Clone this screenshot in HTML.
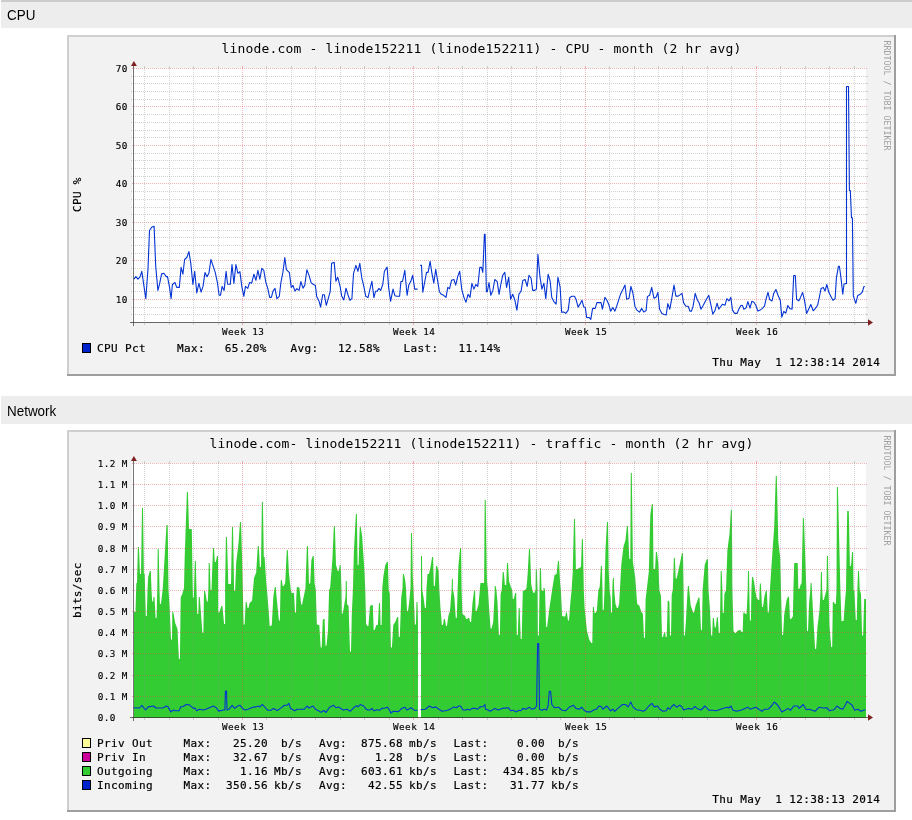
<!DOCTYPE html>
<html><head><meta charset="utf-8"><title>Graphs</title>
<style>
html,body{margin:0;padding:0;background:#fff;}
body{width:912px;height:820px;overflow:hidden;position:relative;font-family:"Liberation Sans",Arial,sans-serif;}
.hd{position:absolute;left:1px;width:911px;height:28px;background:#ededed;font-size:14px;color:#000;}
.hd span{position:absolute;left:6.3px;top:7px;line-height:16px;transform:scaleX(0.96);transform-origin:0 0;}
#h1{top:0;}
#h1:before{content:"";position:absolute;left:0;top:0;width:100%;height:2px;background:#cbcbcb;}
#h2{top:396px;}
svg{position:absolute;left:0;top:0;}
svg text{font-family:'DejaVu Sans Mono', 'Liberation Mono', monospace;stroke:currentColor;stroke-width:0.2px;}
svg text[font-size="9.3"]{stroke-width:0.15px;}
svg text[font-size="13"],svg text.wm{stroke:none;}
</style></head>
<body>
<div class="hd" id="h1"><span>CPU</span></div>
<div class="hd" id="h2"><span>Network</span></div>
<svg width="912" height="820" viewBox="0 0 912 820" shape-rendering="crispEdges">
<rect x="67" y="35" width="829" height="341" fill="#f2f2f2"/>
<path d="M67 35h829v2h-827v339h-2z" fill="#cfcfcf"/>
<path d="M896 376h-829v-2h827v-339h2z" fill="#9e9e9e"/>
<text x="481.5" y="53" font-size="13" letter-spacing="0.173" text-anchor="middle" fill="#000">linode.com - linode152211 (linode152211) - CPU - month (2 hr avg)</text>
<text class="wm" transform="translate(883.6 40.5) rotate(90)" font-size="8.3" fill="#a0a0a0">RRDTOOL / TOBI OETIKER</text>
<rect x="132" y="68" width="734" height="254" fill="#fff"/>
<line x1="131" y1="322.5" x2="865" y2="322.5" stroke="rgba(143,143,143,0.38)" stroke-width="1" stroke-dasharray="1 1"/>
<line x1="865" y1="322.5" x2="868" y2="322.5" stroke="rgba(143,143,143,0.38)" stroke-width="1"/>
<line x1="131" y1="314.5" x2="865" y2="314.5" stroke="rgba(143,143,143,0.38)" stroke-width="1" stroke-dasharray="1 1"/>
<line x1="865" y1="314.5" x2="868" y2="314.5" stroke="rgba(143,143,143,0.38)" stroke-width="1"/>
<line x1="131" y1="307.5" x2="865" y2="307.5" stroke="rgba(143,143,143,0.38)" stroke-width="1" stroke-dasharray="1 1"/>
<line x1="865" y1="307.5" x2="868" y2="307.5" stroke="rgba(143,143,143,0.38)" stroke-width="1"/>
<line x1="132" y1="299.5" x2="867" y2="299.5" stroke="rgba(222,79,79,0.42)" stroke-width="1" stroke-dasharray="1 1"/>
<line x1="131" y1="291.5" x2="865" y2="291.5" stroke="rgba(143,143,143,0.38)" stroke-width="1" stroke-dasharray="1 1"/>
<line x1="865" y1="291.5" x2="868" y2="291.5" stroke="rgba(143,143,143,0.38)" stroke-width="1"/>
<line x1="131" y1="283.5" x2="865" y2="283.5" stroke="rgba(143,143,143,0.38)" stroke-width="1" stroke-dasharray="1 1"/>
<line x1="865" y1="283.5" x2="868" y2="283.5" stroke="rgba(143,143,143,0.38)" stroke-width="1"/>
<line x1="131" y1="276.5" x2="865" y2="276.5" stroke="rgba(143,143,143,0.38)" stroke-width="1" stroke-dasharray="1 1"/>
<line x1="865" y1="276.5" x2="868" y2="276.5" stroke="rgba(143,143,143,0.38)" stroke-width="1"/>
<line x1="131" y1="268.5" x2="865" y2="268.5" stroke="rgba(143,143,143,0.38)" stroke-width="1" stroke-dasharray="1 1"/>
<line x1="865" y1="268.5" x2="868" y2="268.5" stroke="rgba(143,143,143,0.38)" stroke-width="1"/>
<line x1="132" y1="260.5" x2="867" y2="260.5" stroke="rgba(222,79,79,0.42)" stroke-width="1" stroke-dasharray="1 1"/>
<line x1="131" y1="253.5" x2="865" y2="253.5" stroke="rgba(143,143,143,0.38)" stroke-width="1" stroke-dasharray="1 1"/>
<line x1="865" y1="253.5" x2="868" y2="253.5" stroke="rgba(143,143,143,0.38)" stroke-width="1"/>
<line x1="131" y1="245.5" x2="865" y2="245.5" stroke="rgba(143,143,143,0.38)" stroke-width="1" stroke-dasharray="1 1"/>
<line x1="865" y1="245.5" x2="868" y2="245.5" stroke="rgba(143,143,143,0.38)" stroke-width="1"/>
<line x1="131" y1="237.5" x2="865" y2="237.5" stroke="rgba(143,143,143,0.38)" stroke-width="1" stroke-dasharray="1 1"/>
<line x1="865" y1="237.5" x2="868" y2="237.5" stroke="rgba(143,143,143,0.38)" stroke-width="1"/>
<line x1="131" y1="230.5" x2="865" y2="230.5" stroke="rgba(143,143,143,0.38)" stroke-width="1" stroke-dasharray="1 1"/>
<line x1="865" y1="230.5" x2="868" y2="230.5" stroke="rgba(143,143,143,0.38)" stroke-width="1"/>
<line x1="132" y1="222.5" x2="867" y2="222.5" stroke="rgba(222,79,79,0.42)" stroke-width="1" stroke-dasharray="1 1"/>
<line x1="131" y1="214.5" x2="865" y2="214.5" stroke="rgba(143,143,143,0.38)" stroke-width="1" stroke-dasharray="1 1"/>
<line x1="865" y1="214.5" x2="868" y2="214.5" stroke="rgba(143,143,143,0.38)" stroke-width="1"/>
<line x1="131" y1="207.5" x2="865" y2="207.5" stroke="rgba(143,143,143,0.38)" stroke-width="1" stroke-dasharray="1 1"/>
<line x1="865" y1="207.5" x2="868" y2="207.5" stroke="rgba(143,143,143,0.38)" stroke-width="1"/>
<line x1="131" y1="199.5" x2="865" y2="199.5" stroke="rgba(143,143,143,0.38)" stroke-width="1" stroke-dasharray="1 1"/>
<line x1="865" y1="199.5" x2="868" y2="199.5" stroke="rgba(143,143,143,0.38)" stroke-width="1"/>
<line x1="131" y1="191.5" x2="865" y2="191.5" stroke="rgba(143,143,143,0.38)" stroke-width="1" stroke-dasharray="1 1"/>
<line x1="865" y1="191.5" x2="868" y2="191.5" stroke="rgba(143,143,143,0.38)" stroke-width="1"/>
<line x1="132" y1="183.5" x2="867" y2="183.5" stroke="rgba(222,79,79,0.42)" stroke-width="1" stroke-dasharray="1 1"/>
<line x1="131" y1="176.5" x2="865" y2="176.5" stroke="rgba(143,143,143,0.38)" stroke-width="1" stroke-dasharray="1 1"/>
<line x1="865" y1="176.5" x2="868" y2="176.5" stroke="rgba(143,143,143,0.38)" stroke-width="1"/>
<line x1="131" y1="168.5" x2="865" y2="168.5" stroke="rgba(143,143,143,0.38)" stroke-width="1" stroke-dasharray="1 1"/>
<line x1="865" y1="168.5" x2="868" y2="168.5" stroke="rgba(143,143,143,0.38)" stroke-width="1"/>
<line x1="131" y1="160.5" x2="865" y2="160.5" stroke="rgba(143,143,143,0.38)" stroke-width="1" stroke-dasharray="1 1"/>
<line x1="865" y1="160.5" x2="868" y2="160.5" stroke="rgba(143,143,143,0.38)" stroke-width="1"/>
<line x1="131" y1="153.5" x2="865" y2="153.5" stroke="rgba(143,143,143,0.38)" stroke-width="1" stroke-dasharray="1 1"/>
<line x1="865" y1="153.5" x2="868" y2="153.5" stroke="rgba(143,143,143,0.38)" stroke-width="1"/>
<line x1="132" y1="145.5" x2="867" y2="145.5" stroke="rgba(222,79,79,0.42)" stroke-width="1" stroke-dasharray="1 1"/>
<line x1="131" y1="137.5" x2="865" y2="137.5" stroke="rgba(143,143,143,0.38)" stroke-width="1" stroke-dasharray="1 1"/>
<line x1="865" y1="137.5" x2="868" y2="137.5" stroke="rgba(143,143,143,0.38)" stroke-width="1"/>
<line x1="131" y1="130.5" x2="865" y2="130.5" stroke="rgba(143,143,143,0.38)" stroke-width="1" stroke-dasharray="1 1"/>
<line x1="865" y1="130.5" x2="868" y2="130.5" stroke="rgba(143,143,143,0.38)" stroke-width="1"/>
<line x1="131" y1="122.5" x2="865" y2="122.5" stroke="rgba(143,143,143,0.38)" stroke-width="1" stroke-dasharray="1 1"/>
<line x1="865" y1="122.5" x2="868" y2="122.5" stroke="rgba(143,143,143,0.38)" stroke-width="1"/>
<line x1="131" y1="114.5" x2="865" y2="114.5" stroke="rgba(143,143,143,0.38)" stroke-width="1" stroke-dasharray="1 1"/>
<line x1="865" y1="114.5" x2="868" y2="114.5" stroke="rgba(143,143,143,0.38)" stroke-width="1"/>
<line x1="132" y1="106.5" x2="867" y2="106.5" stroke="rgba(222,79,79,0.42)" stroke-width="1" stroke-dasharray="1 1"/>
<line x1="131" y1="99.5" x2="865" y2="99.5" stroke="rgba(143,143,143,0.38)" stroke-width="1" stroke-dasharray="1 1"/>
<line x1="865" y1="99.5" x2="868" y2="99.5" stroke="rgba(143,143,143,0.38)" stroke-width="1"/>
<line x1="131" y1="91.5" x2="865" y2="91.5" stroke="rgba(143,143,143,0.38)" stroke-width="1" stroke-dasharray="1 1"/>
<line x1="865" y1="91.5" x2="868" y2="91.5" stroke="rgba(143,143,143,0.38)" stroke-width="1"/>
<line x1="131" y1="83.5" x2="865" y2="83.5" stroke="rgba(143,143,143,0.38)" stroke-width="1" stroke-dasharray="1 1"/>
<line x1="865" y1="83.5" x2="868" y2="83.5" stroke="rgba(143,143,143,0.38)" stroke-width="1"/>
<line x1="131" y1="76.5" x2="865" y2="76.5" stroke="rgba(143,143,143,0.38)" stroke-width="1" stroke-dasharray="1 1"/>
<line x1="865" y1="76.5" x2="868" y2="76.5" stroke="rgba(143,143,143,0.38)" stroke-width="1"/>
<line x1="132" y1="68.5" x2="867" y2="68.5" stroke="rgba(222,79,79,0.42)" stroke-width="1" stroke-dasharray="1 1"/>
<line x1="144.5" y1="68" x2="144.5" y2="322" stroke="rgba(143,143,143,0.38)" stroke-width="1" stroke-dasharray="1 1"/>
<line x1="144.5" y1="66" x2="144.5" y2="68" stroke="rgba(143,143,143,0.38)" stroke-width="1"/>
<line x1="144.5" y1="323" x2="144.5" y2="325" stroke="rgba(143,143,143,0.38)" stroke-width="1"/>
<line x1="169.5" y1="68" x2="169.5" y2="322" stroke="rgba(143,143,143,0.38)" stroke-width="1" stroke-dasharray="1 1"/>
<line x1="169.5" y1="66" x2="169.5" y2="68" stroke="rgba(143,143,143,0.38)" stroke-width="1"/>
<line x1="169.5" y1="323" x2="169.5" y2="325" stroke="rgba(143,143,143,0.38)" stroke-width="1"/>
<line x1="193.5" y1="68" x2="193.5" y2="322" stroke="rgba(143,143,143,0.38)" stroke-width="1" stroke-dasharray="1 1"/>
<line x1="193.5" y1="66" x2="193.5" y2="68" stroke="rgba(143,143,143,0.38)" stroke-width="1"/>
<line x1="193.5" y1="323" x2="193.5" y2="325" stroke="rgba(143,143,143,0.38)" stroke-width="1"/>
<line x1="218.5" y1="68" x2="218.5" y2="322" stroke="rgba(143,143,143,0.38)" stroke-width="1" stroke-dasharray="1 1"/>
<line x1="218.5" y1="66" x2="218.5" y2="68" stroke="rgba(143,143,143,0.38)" stroke-width="1"/>
<line x1="218.5" y1="323" x2="218.5" y2="325" stroke="rgba(143,143,143,0.38)" stroke-width="1"/>
<line x1="242.5" y1="68" x2="242.5" y2="322" stroke="rgba(222,79,79,0.42)" stroke-width="1" stroke-dasharray="1 1"/>
<line x1="242.5" y1="66" x2="242.5" y2="68" stroke="rgba(222,79,79,0.42)" stroke-width="1"/>
<line x1="242.5" y1="323" x2="242.5" y2="325" stroke="rgba(222,79,79,0.42)" stroke-width="1"/>
<line x1="266.5" y1="68" x2="266.5" y2="322" stroke="rgba(143,143,143,0.38)" stroke-width="1" stroke-dasharray="1 1"/>
<line x1="266.5" y1="66" x2="266.5" y2="68" stroke="rgba(143,143,143,0.38)" stroke-width="1"/>
<line x1="266.5" y1="323" x2="266.5" y2="325" stroke="rgba(143,143,143,0.38)" stroke-width="1"/>
<line x1="291.5" y1="68" x2="291.5" y2="322" stroke="rgba(143,143,143,0.38)" stroke-width="1" stroke-dasharray="1 1"/>
<line x1="291.5" y1="66" x2="291.5" y2="68" stroke="rgba(143,143,143,0.38)" stroke-width="1"/>
<line x1="291.5" y1="323" x2="291.5" y2="325" stroke="rgba(143,143,143,0.38)" stroke-width="1"/>
<line x1="315.5" y1="68" x2="315.5" y2="322" stroke="rgba(143,143,143,0.38)" stroke-width="1" stroke-dasharray="1 1"/>
<line x1="315.5" y1="66" x2="315.5" y2="68" stroke="rgba(143,143,143,0.38)" stroke-width="1"/>
<line x1="315.5" y1="323" x2="315.5" y2="325" stroke="rgba(143,143,143,0.38)" stroke-width="1"/>
<line x1="340.5" y1="68" x2="340.5" y2="322" stroke="rgba(143,143,143,0.38)" stroke-width="1" stroke-dasharray="1 1"/>
<line x1="340.5" y1="66" x2="340.5" y2="68" stroke="rgba(143,143,143,0.38)" stroke-width="1"/>
<line x1="340.5" y1="323" x2="340.5" y2="325" stroke="rgba(143,143,143,0.38)" stroke-width="1"/>
<line x1="364.5" y1="68" x2="364.5" y2="322" stroke="rgba(143,143,143,0.38)" stroke-width="1" stroke-dasharray="1 1"/>
<line x1="364.5" y1="66" x2="364.5" y2="68" stroke="rgba(143,143,143,0.38)" stroke-width="1"/>
<line x1="364.5" y1="323" x2="364.5" y2="325" stroke="rgba(143,143,143,0.38)" stroke-width="1"/>
<line x1="389.5" y1="68" x2="389.5" y2="322" stroke="rgba(143,143,143,0.38)" stroke-width="1" stroke-dasharray="1 1"/>
<line x1="389.5" y1="66" x2="389.5" y2="68" stroke="rgba(143,143,143,0.38)" stroke-width="1"/>
<line x1="389.5" y1="323" x2="389.5" y2="325" stroke="rgba(143,143,143,0.38)" stroke-width="1"/>
<line x1="413.5" y1="68" x2="413.5" y2="322" stroke="rgba(222,79,79,0.42)" stroke-width="1" stroke-dasharray="1 1"/>
<line x1="413.5" y1="66" x2="413.5" y2="68" stroke="rgba(222,79,79,0.42)" stroke-width="1"/>
<line x1="413.5" y1="323" x2="413.5" y2="325" stroke="rgba(222,79,79,0.42)" stroke-width="1"/>
<line x1="438.5" y1="68" x2="438.5" y2="322" stroke="rgba(143,143,143,0.38)" stroke-width="1" stroke-dasharray="1 1"/>
<line x1="438.5" y1="66" x2="438.5" y2="68" stroke="rgba(143,143,143,0.38)" stroke-width="1"/>
<line x1="438.5" y1="323" x2="438.5" y2="325" stroke="rgba(143,143,143,0.38)" stroke-width="1"/>
<line x1="462.5" y1="68" x2="462.5" y2="322" stroke="rgba(143,143,143,0.38)" stroke-width="1" stroke-dasharray="1 1"/>
<line x1="462.5" y1="66" x2="462.5" y2="68" stroke="rgba(143,143,143,0.38)" stroke-width="1"/>
<line x1="462.5" y1="323" x2="462.5" y2="325" stroke="rgba(143,143,143,0.38)" stroke-width="1"/>
<line x1="487.5" y1="68" x2="487.5" y2="322" stroke="rgba(143,143,143,0.38)" stroke-width="1" stroke-dasharray="1 1"/>
<line x1="487.5" y1="66" x2="487.5" y2="68" stroke="rgba(143,143,143,0.38)" stroke-width="1"/>
<line x1="487.5" y1="323" x2="487.5" y2="325" stroke="rgba(143,143,143,0.38)" stroke-width="1"/>
<line x1="511.5" y1="68" x2="511.5" y2="322" stroke="rgba(143,143,143,0.38)" stroke-width="1" stroke-dasharray="1 1"/>
<line x1="511.5" y1="66" x2="511.5" y2="68" stroke="rgba(143,143,143,0.38)" stroke-width="1"/>
<line x1="511.5" y1="323" x2="511.5" y2="325" stroke="rgba(143,143,143,0.38)" stroke-width="1"/>
<line x1="536.5" y1="68" x2="536.5" y2="322" stroke="rgba(143,143,143,0.38)" stroke-width="1" stroke-dasharray="1 1"/>
<line x1="536.5" y1="66" x2="536.5" y2="68" stroke="rgba(143,143,143,0.38)" stroke-width="1"/>
<line x1="536.5" y1="323" x2="536.5" y2="325" stroke="rgba(143,143,143,0.38)" stroke-width="1"/>
<line x1="560.5" y1="68" x2="560.5" y2="322" stroke="rgba(143,143,143,0.38)" stroke-width="1" stroke-dasharray="1 1"/>
<line x1="560.5" y1="66" x2="560.5" y2="68" stroke="rgba(143,143,143,0.38)" stroke-width="1"/>
<line x1="560.5" y1="323" x2="560.5" y2="325" stroke="rgba(143,143,143,0.38)" stroke-width="1"/>
<line x1="585.5" y1="68" x2="585.5" y2="322" stroke="rgba(222,79,79,0.42)" stroke-width="1" stroke-dasharray="1 1"/>
<line x1="585.5" y1="66" x2="585.5" y2="68" stroke="rgba(222,79,79,0.42)" stroke-width="1"/>
<line x1="585.5" y1="323" x2="585.5" y2="325" stroke="rgba(222,79,79,0.42)" stroke-width="1"/>
<line x1="609.5" y1="68" x2="609.5" y2="322" stroke="rgba(143,143,143,0.38)" stroke-width="1" stroke-dasharray="1 1"/>
<line x1="609.5" y1="66" x2="609.5" y2="68" stroke="rgba(143,143,143,0.38)" stroke-width="1"/>
<line x1="609.5" y1="323" x2="609.5" y2="325" stroke="rgba(143,143,143,0.38)" stroke-width="1"/>
<line x1="634.5" y1="68" x2="634.5" y2="322" stroke="rgba(143,143,143,0.38)" stroke-width="1" stroke-dasharray="1 1"/>
<line x1="634.5" y1="66" x2="634.5" y2="68" stroke="rgba(143,143,143,0.38)" stroke-width="1"/>
<line x1="634.5" y1="323" x2="634.5" y2="325" stroke="rgba(143,143,143,0.38)" stroke-width="1"/>
<line x1="658.5" y1="68" x2="658.5" y2="322" stroke="rgba(143,143,143,0.38)" stroke-width="1" stroke-dasharray="1 1"/>
<line x1="658.5" y1="66" x2="658.5" y2="68" stroke="rgba(143,143,143,0.38)" stroke-width="1"/>
<line x1="658.5" y1="323" x2="658.5" y2="325" stroke="rgba(143,143,143,0.38)" stroke-width="1"/>
<line x1="682.5" y1="68" x2="682.5" y2="322" stroke="rgba(143,143,143,0.38)" stroke-width="1" stroke-dasharray="1 1"/>
<line x1="682.5" y1="66" x2="682.5" y2="68" stroke="rgba(143,143,143,0.38)" stroke-width="1"/>
<line x1="682.5" y1="323" x2="682.5" y2="325" stroke="rgba(143,143,143,0.38)" stroke-width="1"/>
<line x1="707.5" y1="68" x2="707.5" y2="322" stroke="rgba(143,143,143,0.38)" stroke-width="1" stroke-dasharray="1 1"/>
<line x1="707.5" y1="66" x2="707.5" y2="68" stroke="rgba(143,143,143,0.38)" stroke-width="1"/>
<line x1="707.5" y1="323" x2="707.5" y2="325" stroke="rgba(143,143,143,0.38)" stroke-width="1"/>
<line x1="731.5" y1="68" x2="731.5" y2="322" stroke="rgba(143,143,143,0.38)" stroke-width="1" stroke-dasharray="1 1"/>
<line x1="731.5" y1="66" x2="731.5" y2="68" stroke="rgba(143,143,143,0.38)" stroke-width="1"/>
<line x1="731.5" y1="323" x2="731.5" y2="325" stroke="rgba(143,143,143,0.38)" stroke-width="1"/>
<line x1="756.5" y1="68" x2="756.5" y2="322" stroke="rgba(222,79,79,0.42)" stroke-width="1" stroke-dasharray="1 1"/>
<line x1="756.5" y1="66" x2="756.5" y2="68" stroke="rgba(222,79,79,0.42)" stroke-width="1"/>
<line x1="756.5" y1="323" x2="756.5" y2="325" stroke="rgba(222,79,79,0.42)" stroke-width="1"/>
<line x1="780.5" y1="68" x2="780.5" y2="322" stroke="rgba(143,143,143,0.38)" stroke-width="1" stroke-dasharray="1 1"/>
<line x1="780.5" y1="66" x2="780.5" y2="68" stroke="rgba(143,143,143,0.38)" stroke-width="1"/>
<line x1="780.5" y1="323" x2="780.5" y2="325" stroke="rgba(143,143,143,0.38)" stroke-width="1"/>
<line x1="805.5" y1="68" x2="805.5" y2="322" stroke="rgba(143,143,143,0.38)" stroke-width="1" stroke-dasharray="1 1"/>
<line x1="805.5" y1="66" x2="805.5" y2="68" stroke="rgba(143,143,143,0.38)" stroke-width="1"/>
<line x1="805.5" y1="323" x2="805.5" y2="325" stroke="rgba(143,143,143,0.38)" stroke-width="1"/>
<line x1="829.5" y1="68" x2="829.5" y2="322" stroke="rgba(143,143,143,0.38)" stroke-width="1" stroke-dasharray="1 1"/>
<line x1="829.5" y1="66" x2="829.5" y2="68" stroke="rgba(143,143,143,0.38)" stroke-width="1"/>
<line x1="829.5" y1="323" x2="829.5" y2="325" stroke="rgba(143,143,143,0.38)" stroke-width="1"/>
<line x1="854.5" y1="68" x2="854.5" y2="322" stroke="rgba(143,143,143,0.38)" stroke-width="1" stroke-dasharray="1 1"/>
<line x1="854.5" y1="66" x2="854.5" y2="68" stroke="rgba(143,143,143,0.38)" stroke-width="1"/>
<line x1="854.5" y1="323" x2="854.5" y2="325" stroke="rgba(143,143,143,0.38)" stroke-width="1"/>
<path d="M133.9 279.2L135.9 276.6L137.9 279.2L139.9 277.2L141.8 271.3L143.8 285.1L145.8 298.7L148 268.7L149.5 230.5L151.7 227.2L154.1 226.3L155.7 266.1L157.9 290.4L159.6 283.8L161.6 273.9L163.9 273.3L166.2 276.6L167.5 276.6L169.5 287.1L171.1 298.7L172.4 284.5L175 282.5L176.7 287.4L179.3 287.4L181.1 267.4L182.9 274.2L184.6 259.5L186.8 257.5L188.9 251.6L190.8 263.4L192.9 284.5L194.7 271.3L196.8 293L198.9 283.4L201.1 292.1L203 286.4L205 272.6L207 276.8L208.9 273.3L210.9 259.5L212.9 265.4L215.3 272.6L217.5 283.2L219.1 295.3L220.5 295.3L222.1 286.4L224.1 290.4L226.1 271.3L227.6 284.2L230.3 284.2L232 264.5L233.9 283.4L235.9 264.5L237.9 273.3L239.9 271.6L241.8 286.4L243.8 296.3L245.5 286.4L247.8 288.4L249.6 282.5L251.7 283.2L253.9 274.2L255.9 280.3L257.9 270.3L259.8 279.2L261.8 268.4L263.8 270.3L265.8 282.1L267.7 288.2L269.7 297.4L271.4 297.4L273 291.1L275 288.4L276.9 298.7L279.3 296.3L280.9 282.5L282.9 272.4L284.8 257.5L286.4 269.7L289.4 272.6L291.2 287.4L293 285.5L295 291.1L296.9 288.7L299.1 290.4L300.9 281.6L303 288.2L304.8 285.1L306.9 269.7L309.2 275.9L311.2 282.9L313.5 284.5L315.4 285.5L316.7 296.6L319.1 301.3L320.6 307.1L322.7 294.7L324.3 294.7L326.3 305.3L328.5 297.6L330.2 291.7L331.6 263.2L334.2 262.4L335.9 281.2L337.7 277.2L340.1 286.4L341.7 296.1L343.8 300L346 288.2L348 295L350 300.3L351.9 298.7L353.5 273.7L355.9 265.4L357.9 271.3L359.8 263.4L361.8 277.9L363.8 286.4L365.8 296.3L368 297.6L369.7 290.4L371.9 281.2L373.9 297.6L375.5 291.3L377.2 291.1L378.9 288.4L380.7 290.4L382.8 284.2L384.4 271.3L387.1 267.1L388.6 287.1L390.6 301.3L393 289.1L394.9 295.7L396.9 296.3L399.6 296.3L400.9 281.6L402.6 281.2L404.8 270.3L407.1 295.3L408.8 285.1L410.7 281.6L412.7 275.3L414.7 289.1L417.6 289.1M420.2 265.4L421.5 265.4L422.8 292.1L424.6 282.5L426.5 272.4L428.1 272.4L430.1 261.4L431.8 272.6L433.8 283.2L435.7 269.3L437.7 281.2L439.4 291.7L441 293.9L443.6 295.3L446 297.4L447.8 287.4L449.6 288.7L451.5 280.3L453.9 279.5L455.7 285.1L457.7 276.6L459.7 271.3L461.8 289.7L464 297.6L466 302.2L468 294.3L470 297.4L471.9 283.4L473.9 289.1L475.9 284.5L477.8 286.4L479.8 267.4L481.5 267.4L482.8 272.4L484.4 234.2L485.1 234.2L486.4 291.7L487.3 291.7L489 282.5L490.8 295.3L492.9 290.4L494.8 279.5L497.2 281.6L499.1 294.3L500.8 284.5L502.7 275.3L504.8 272.4L506.6 287.4L508.7 277.2L510.6 299.2L512.7 294.3L514.9 300.3L516.9 310.1L518.9 294.3L521.1 291.1L522.8 280.5L525.1 279.5L527.2 286.4L529 275.3L531.1 278.2L532.7 290.4L534.7 290.4L536.4 289.1L537.9 254.2L539.9 276.3L541.9 289.1L543.9 283.2L545.8 298.7L548.1 274.2L550.1 280.8L551.8 297.6L553.7 301.3L556.1 304.2L557.9 277.2L560.1 286.8L561.6 312.1L564 312.1L565.8 313.4L568.2 310.1L569.8 297.4L571.9 296.3L574.5 296.3L576.1 299.6L578.1 307.1L580.1 303.9L582 300.3L583.7 306.8L585.3 307.5L586.6 317.4L589.3 317.6L590.8 319.3L592.6 308.4L595.2 308.4L596.9 302.6L601.1 302.6L602.4 309.2L604.9 297.4L607 300.5L608.8 304.5L610.6 311.1L612.8 307.5L614.9 311.1L616.7 306.2L618.8 299.6L620.7 293.7L623.1 289.1L625 285.1L626.7 299.2L629 298.3L630.9 286.4L632.9 293L634.9 306.2L636.9 310.1L639.5 312.1L641.7 308.4L643.8 312.1L646.1 310.5L647.4 296.6L649.6 295.3L651.7 287.4L654 298.3L656.2 297L657.9 292.4L659.6 309.2L661.9 313.4L664.1 314.5L666.2 315L667.8 303.6L669.8 309.2L671.7 298.9L674 285.1L675.9 296.1L678.3 296.1L682 293.4L683.6 302.9L685.9 306.2L688.2 306.2L689.9 311.1L691.5 311.1L693.1 306.2L695.2 293.4L697.4 300L699.4 303.6L700.9 309.2L703.3 305.3L706 300L708.8 295.3L711 305.3L712.8 314.1L714.9 310.8L717.1 303.2L718.8 309.2L720 307.5L722.6 304.2L725 305.3L726.8 298.7L728.9 300.9L730.8 297.4L732.5 310.1L734.7 313.4L737.1 313.4L738.7 309.5L740.8 305.5L742.4 305.5L743.9 309.2L746.1 307.9L747.9 301.6L750 308.2L751.8 301.3L753.9 302.2L755.8 305.3L757.9 311.1L760.1 310.1L762.4 308.4L764.5 306.2L766.1 298.9L768 292.4L769.7 299.6L772 300.9L773.7 293.4L775.9 289.5L777.9 295L780.3 300.5L781.8 317.1L783.8 311.4L785.8 313.2L787.8 305.5L789.7 308.4L792.1 309.2L793.7 275.5L795.3 275.5L796.6 299.2L798.7 300.9L800.5 297.4L802.6 292.4L804.5 300.3L806.6 313.4L808.4 309.7L810.8 304.5L813.2 310.8L815.4 308.4L817.6 305.3L819.3 297.4L821.1 288.4L823.3 287.4L825 291.1L826.8 284.5L828.9 292.6L831.2 297L832.9 300.3L835.1 298.7L836.4 277.9L838.4 266.3L839.4 266.2L840.9 277.4L842.8 294.3L844 284L846.5 283.4L846.5 86.5L848.5 86.5L849.4 190.5L850.3 190.5L851.5 217.8L852.4 217.8L853.3 295.8L855.8 303.3L857.7 295.6L860.2 294.3L862.3 292.1L863.9 286.5L864.8 286.5" fill="none" stroke="#0433d4" stroke-width="1.1" stroke-linejoin="round" shape-rendering="auto"/>
<line x1="133.5" y1="61.5" x2="133.5" y2="326" stroke="rgba(31,31,31,0.62)" stroke-width="1"/>
<line x1="130" y1="322.5" x2="868" y2="322.5" stroke="rgba(31,31,31,0.62)" stroke-width="1"/>
<path d="M131 66.1L133.9 61.1L136.9 66.1z" fill="#801f1f" shape-rendering="auto"/>
<path d="M868 319.3L873 322.5L868 325.7z" fill="#801f1f" shape-rendering="auto"/>
<text x="127.8" y="303" font-size="9.3" letter-spacing="0.4" text-anchor="end" fill="#000">10</text>
<text x="127.8" y="264" font-size="9.3" letter-spacing="0.4" text-anchor="end" fill="#000">20</text>
<text x="127.8" y="226" font-size="9.3" letter-spacing="0.4" text-anchor="end" fill="#000">30</text>
<text x="127.8" y="187" font-size="9.3" letter-spacing="0.4" text-anchor="end" fill="#000">40</text>
<text x="127.8" y="149" font-size="9.3" letter-spacing="0.4" text-anchor="end" fill="#000">50</text>
<text x="127.8" y="110" font-size="9.3" letter-spacing="0.4" text-anchor="end" fill="#000">60</text>
<text x="127.8" y="72" font-size="9.3" letter-spacing="0.4" text-anchor="end" fill="#000">70</text>
<text x="243.2" y="335" font-size="9.3" letter-spacing="0.45" text-anchor="middle" fill="#000">Week 13</text>
<text x="414.2" y="335" font-size="9.3" letter-spacing="0.45" text-anchor="middle" fill="#000">Week 14</text>
<text x="586.2" y="335" font-size="9.3" letter-spacing="0.45" text-anchor="middle" fill="#000">Week 15</text>
<text x="757.2" y="335" font-size="9.3" letter-spacing="0.45" text-anchor="middle" fill="#000">Week 16</text>
<text transform="translate(81.3 194.6) rotate(-90)" font-size="11" letter-spacing="0.3" text-anchor="middle">CPU %</text>
<rect x="82.5" y="343.5" width="8" height="9" fill="#0022cc" stroke="#000" stroke-width="1"/>
<text x="97" y="352" font-size="11" letter-spacing="0.377" fill="#000">CPU Pct</text>
<text x="176.9" y="352" font-size="11" letter-spacing="0.377" fill="#000">Max:</text>
<text x="224.7" y="352" font-size="11" letter-spacing="0.377" fill="#000">65.20%</text>
<text x="290.6" y="352" font-size="11" letter-spacing="0.377" fill="#000">Avg:</text>
<text x="338.1" y="352" font-size="11" letter-spacing="0.377" fill="#000">12.58%</text>
<text x="403.6" y="352" font-size="11" letter-spacing="0.377" fill="#000">Last:</text>
<text x="458.5" y="352" font-size="11" letter-spacing="0.377" fill="#000">11.14%</text>
<text x="712.2" y="366" font-size="11" letter-spacing="0.377" fill="#000" xml:space="preserve">Thu May  1 12:38:14 2014</text>
<rect x="67" y="430" width="829" height="382" fill="#f2f2f2"/>
<path d="M67 430h829v2h-827v380h-2z" fill="#cfcfcf"/>
<path d="M896 812h-829v-2h827v-380h2z" fill="#9e9e9e"/>
<text x="481.5" y="448" font-size="13" letter-spacing="0.173" text-anchor="middle" fill="#000">linode.com- linode152211 (linode152211) - traffic - month (2 hr avg)</text>
<text class="wm" transform="translate(883.6 435.5) rotate(90)" font-size="8.3" fill="#a0a0a0">RRDTOOL / TOBI OETIKER</text>
<rect x="132" y="463" width="734" height="254" fill="#fff"/>
<path d="M134 718L134 612L135.5 612L136.3 583L137 583L137.9 547L138.9 547L140 574L141 574L142 508L143 508L143.9 574L144.7 574L145.8 616L146.8 616L147.5 590L148.2 577L149.8 571L150.8 571L151.5 590L152.2 601.5L153.2 601.5L153.5 597L154.5 597L155.6 618L156.6 618L157.3 589L157.7 549L158.7 549L159.5 590L159.9 604L160.9 604L161.7 598L162.8 588L164.1 566L166.5 525L167.7 525L168.5 590L169.6 607L171 639.5L172 639.5L172.3 612L173.3 612L175.2 623L177.5 629L178.9 659L179.9 659L180.7 597.5L182.3 594L184 588L184.7 557L186.9 492L187.9 492L189 529L191.8 529L192.9 597.5L193.9 597.5L194.8 561L195.8 561L196.5 590L197.3 614L198.3 614L198.8 597L199.8 597L200.5 607L202.4 633L203.4 633L204 591L205 591L206 596L206.8 601.5L207.8 601.5L208.4 588L208.7 563L209.7 563L210.5 588L210.5 590L211.5 590L213 548L214 548L214.8 562L215.8 562L217 556L218 556L218.2 612.6L219.2 612.6L221.4 606L222.4 606L224.1 624L225.1 624L225.1 588L225.9 537L226.9 537L228.3 584L231 584L232 527L233 527L234.1 591L235.1 591L236.2 563L238.6 542L240 522L241 522L242.2 561L243.6 624.5L244.6 624.5L245.7 602L246.7 602L247.5 608L248.5 608L249.6 603L252 600.7L253 590L254 578L256.2 572.5L257.8 546L258.8 546L259.9 567L261 567L261.9 502L262.9 502L263.8 557L264.6 557L266.2 582L267 590L268.6 610L269.7 626L270.7 626L271.8 625L273.4 596L274.8 587L275.8 587L276.5 596L278.9 620.5L279.9 620.5L280.5 588L280.8 580L281.8 580L282.7 586L283.7 586L285.2 583L286.8 550L287.8 550L288.9 573L290.8 590L291.6 593L294 593L295 612.6L296 612.6L296.3 597L296.9 587L297.9 587L299.5 588L301.1 604.6L302.1 604.6L303.5 597.5L305.4 589L306.9 546L307.9 546L309 583.6L310.2 583.6L311.4 560L312.8 556L313.8 556L314.6 583.6L315.8 590L316.9 624.5L319.3 625L320.7 647.4L321.7 647.4L322.8 619.7L323.6 619L324.6 619L325.5 645.8L326.5 645.8L328 630L329.1 590L330.1 588L332.3 561L333.9 526L334.9 526L336 565L337.8 571L338.8 571L339.7 565L340.7 565L341.5 590L341.8 613.4L342.8 613.4L343.9 607L345.5 597L345.8 581L346.8 581L347 604L348.6 606L350 651.4L351 651.4L351.8 614L352.9 590L353.9 551L355.9 514L356.9 514L357.6 565L358.6 565L359.7 527L360.7 527L362.1 536L364.5 572L365.3 590L366.1 623.7L367.4 626L368.4 626L370 606L371.8 605L372.8 605L373.7 630L374.7 630L376.3 625L377.9 625L379 603L380 603L380.6 625L381.6 625L382.3 588L383.4 576L385.3 565L386.9 562L387.9 562L388.7 590L389.8 593.5L390.9 647.4L391.9 647.4L393.3 625L395.3 622L397.2 617L398.2 617L398.8 637L399.8 637L401.2 598L402.5 588L402.9 574L403.9 574L405.3 581L406 588L407 611L408 611L409.1 603L410.5 588L411 533L412 533L412.8 578L413.5 590L414.9 624.5L415.9 624.5L416.5 602L417.5 602L418 624L418 718L421 718L421 590L421 556L422 556L422.3 590L423.5 597L424.9 608L425.9 608L426.5 588L427.5 574L429 574L430.7 566L432.1 557L433.1 557L433.8 586L434.9 586L436 566L437 566L438.6 571L439.4 590L440.5 608.6L441.9 625L442.9 625L443.9 619L444.9 619L446 626L447 626L448.4 615.7L450 611L451.6 590L451.9 579L452.9 579L452.8 588L454.4 597.5L455.8 618L456.8 618L457.6 590L458.4 566L460.1 548L461.1 548L461.6 590L462.4 614L465 615.7L466.1 619L467.1 619L468.2 618L469.2 618L470.1 622L471.1 622L472.5 603L474.1 590.4L475.1 590.4L475.6 611L476.6 611L478.5 604.6L479.8 590L480.4 583L484.1 583L484.7 500L485.7 500L486.9 581L488 590L489.1 608.6L490.6 628.4L491.6 628.4L493.2 622L494.8 590L494.6 586L495.6 586L496.4 590L497.5 602L498.9 635L499.9 635L500.6 594L501.7 590L502.8 572L503.8 572L504.9 585L506.2 585L507 563L508 563L509 581L510.9 587L512.2 590L512.8 599L513.8 599L515.2 593L516.2 593L516.8 635L517.8 635L518.7 608L519.7 608L520.7 639L521.7 639L522.8 591L525.2 590L526.5 588L527.6 575L529 549L530 549L531.2 584L532.3 590L533.4 593L534.4 593L535.5 590L535.8 569L536.8 569L537.6 590L537.9 635.5L538.9 635.5L539.5 590L539.9 568L540.9 568L541.5 590L542.5 591L543.5 591L543.4 588L544.4 588L545 590L546.1 627L547.1 627L549 611L552.1 590L554.5 575L556.6 574L558 561L559 561L560.1 583L560.9 590L562.1 616L564.3 616.5L565.3 616.5L565.9 612.6L566.9 612.6L568 620.5L569 620.5L570.4 602L571.6 590L572.7 573L574 519L575 519L575.9 569L577.5 569L579.1 568L581 567L581.9 539L582.9 539L583.8 590L584.6 608L587 631L589.4 640L591.3 643L592.3 643L592.9 607L593.9 607L594.4 613L595.4 613L596.8 611L598.4 590L599.7 587L600.9 566L601.9 566L602.5 590L602.7 610L603.7 610L604.5 590L605.5 549L607 522L608 522L608.7 571L609.6 590L610.7 597.5L611 612.6L612 612.6L612.3 590L612.9 578L613.9 578L614.2 590L615.5 604L616.9 608L617.9 608L619.1 604L619.9 590L621.3 565L623.4 547L625.5 540L626.9 526L627.9 526L629.3 559L630.3 559L630.8 473L631.8 473L632.9 562L635.3 578L636.1 590L637.2 604L639.2 605.4L641.3 611.8L642.9 614L644 638L645 638L645.6 599L646.7 590L648.8 572L650.3 515L651.9 504L652.9 504L653.5 569L655.1 569L655.9 552L656.9 552L658.3 563L659.4 590L661 596L662 637L663 637L664.1 632.4L665.1 632.4L665.7 637L666.7 637L667.7 600.7L668.7 600.7L669.4 602L670 635.5L671 635.5L671.7 595L672.8 590L673.9 558L674.9 558L675.7 578.5L676.7 578.5L678.1 572L680.4 561L682 553L683 553L683.6 590L683.9 635.5L684.9 635.5L686 619.7L687.6 590L687.9 586L688.9 586L689.2 590L690.7 605.4L693.1 612.6L694.1 612.6L695.5 606L698.5 597.5L699.5 597.5L701 630L702 630L702.6 590L704.7 565L706.9 559L707.9 559L708.5 590L709.8 607L711.2 635.5L712.2 635.5L712.8 618L713.8 618L714.8 627.6L715.8 627.6L716.9 617.3L717.9 617.3L718.8 633L719.8 633L720.5 590L720.7 571L721.7 571L722.4 590L722.7 613L723.7 613L724.4 594L726 590L727.4 550L729.5 534L730.9 510L731.9 510L732.4 590L733.5 631L734.9 633L735.9 633L737.4 631L739.3 630L740.3 630L741.7 632L742.7 632L743.3 612.6L744.3 612.6L745.6 614L746.6 614L747.7 590L748 571L749 571L749.3 590L749.9 620.5L750.9 620.5L751.4 590L752 577L753 577L754.1 582L755.2 590L756.5 597.5L758.3 600L759.3 600L759.6 590L759.9 583.6L760.9 583.6L761.2 590L762 607L763 607L764.4 596.7L765.8 590.4L766.8 590.4L767.8 612.6L768.8 612.6L769.9 590L772.3 554L774.2 527L775.8 476L776.8 476L778.3 541L780.2 558L781 590L782.1 635L783.1 635L784.2 615L786.6 600L788 596.7L789 596.7L790 619L791 619L792.9 616.5L793.4 590L794.2 563L797.7 563L798.3 589L799.3 589L800.5 585L801.6 583L802.9 518L803.9 518L805.3 559L806.4 590L807 631L808 631L809.1 603L810.3 590L810.6 583L811.6 583L811.9 590L813.5 621L815.1 649L816.1 649L817.5 627L819.5 610L820.6 590L820.9 572L821.9 572L822.2 590L822.8 600L823.8 600L825.4 594L826.5 590L826.9 556L827.9 556L828.6 590L829.4 625L831.2 647L832.2 647L832.8 602L833.8 602L834.9 604L835.9 604L836.5 590L836.9 487L837.9 487L839.2 541L840.4 590L841.5 621L843.6 621L845.2 599L846 590L847.2 511L848.8 511L849.9 566L851 566L852.1 552L853.1 552L853.6 590L854.4 591L855.8 620L856.8 620L857.4 590L858 571L859 571L859.7 590L861 594L862.1 635.5L863.1 635.5L864.2 599L865 599L866 599L866 718Z" fill="#33cc33" shape-rendering="auto"/>
<line x1="132" y1="717.5" x2="867" y2="717.5" stroke="rgba(222,79,79,0.42)" stroke-width="1" stroke-dasharray="1 1"/>
<line x1="132" y1="696.5" x2="867" y2="696.5" stroke="rgba(222,79,79,0.42)" stroke-width="1" stroke-dasharray="1 1"/>
<line x1="132" y1="675.5" x2="867" y2="675.5" stroke="rgba(222,79,79,0.42)" stroke-width="1" stroke-dasharray="1 1"/>
<line x1="132" y1="653.5" x2="867" y2="653.5" stroke="rgba(222,79,79,0.42)" stroke-width="1" stroke-dasharray="1 1"/>
<line x1="132" y1="632.5" x2="867" y2="632.5" stroke="rgba(222,79,79,0.42)" stroke-width="1" stroke-dasharray="1 1"/>
<line x1="132" y1="611.5" x2="867" y2="611.5" stroke="rgba(222,79,79,0.42)" stroke-width="1" stroke-dasharray="1 1"/>
<line x1="132" y1="590.5" x2="867" y2="590.5" stroke="rgba(222,79,79,0.42)" stroke-width="1" stroke-dasharray="1 1"/>
<line x1="132" y1="569.5" x2="867" y2="569.5" stroke="rgba(222,79,79,0.42)" stroke-width="1" stroke-dasharray="1 1"/>
<line x1="132" y1="548.5" x2="867" y2="548.5" stroke="rgba(222,79,79,0.42)" stroke-width="1" stroke-dasharray="1 1"/>
<line x1="132" y1="526.5" x2="867" y2="526.5" stroke="rgba(222,79,79,0.42)" stroke-width="1" stroke-dasharray="1 1"/>
<line x1="132" y1="505.5" x2="867" y2="505.5" stroke="rgba(222,79,79,0.42)" stroke-width="1" stroke-dasharray="1 1"/>
<line x1="132" y1="484.5" x2="867" y2="484.5" stroke="rgba(222,79,79,0.42)" stroke-width="1" stroke-dasharray="1 1"/>
<line x1="132" y1="463.5" x2="867" y2="463.5" stroke="rgba(222,79,79,0.42)" stroke-width="1" stroke-dasharray="1 1"/>
<line x1="144.5" y1="463" x2="144.5" y2="717" stroke="rgba(143,143,143,0.38)" stroke-width="1" stroke-dasharray="1 1"/>
<line x1="144.5" y1="461" x2="144.5" y2="463" stroke="rgba(143,143,143,0.38)" stroke-width="1"/>
<line x1="144.5" y1="718" x2="144.5" y2="720" stroke="rgba(143,143,143,0.38)" stroke-width="1"/>
<line x1="169.5" y1="463" x2="169.5" y2="717" stroke="rgba(143,143,143,0.38)" stroke-width="1" stroke-dasharray="1 1"/>
<line x1="169.5" y1="461" x2="169.5" y2="463" stroke="rgba(143,143,143,0.38)" stroke-width="1"/>
<line x1="169.5" y1="718" x2="169.5" y2="720" stroke="rgba(143,143,143,0.38)" stroke-width="1"/>
<line x1="193.5" y1="463" x2="193.5" y2="717" stroke="rgba(143,143,143,0.38)" stroke-width="1" stroke-dasharray="1 1"/>
<line x1="193.5" y1="461" x2="193.5" y2="463" stroke="rgba(143,143,143,0.38)" stroke-width="1"/>
<line x1="193.5" y1="718" x2="193.5" y2="720" stroke="rgba(143,143,143,0.38)" stroke-width="1"/>
<line x1="218.5" y1="463" x2="218.5" y2="717" stroke="rgba(143,143,143,0.38)" stroke-width="1" stroke-dasharray="1 1"/>
<line x1="218.5" y1="461" x2="218.5" y2="463" stroke="rgba(143,143,143,0.38)" stroke-width="1"/>
<line x1="218.5" y1="718" x2="218.5" y2="720" stroke="rgba(143,143,143,0.38)" stroke-width="1"/>
<line x1="242.5" y1="463" x2="242.5" y2="717" stroke="rgba(222,79,79,0.42)" stroke-width="1" stroke-dasharray="1 1"/>
<line x1="242.5" y1="461" x2="242.5" y2="463" stroke="rgba(222,79,79,0.42)" stroke-width="1"/>
<line x1="242.5" y1="718" x2="242.5" y2="720" stroke="rgba(222,79,79,0.42)" stroke-width="1"/>
<line x1="266.5" y1="463" x2="266.5" y2="717" stroke="rgba(143,143,143,0.38)" stroke-width="1" stroke-dasharray="1 1"/>
<line x1="266.5" y1="461" x2="266.5" y2="463" stroke="rgba(143,143,143,0.38)" stroke-width="1"/>
<line x1="266.5" y1="718" x2="266.5" y2="720" stroke="rgba(143,143,143,0.38)" stroke-width="1"/>
<line x1="291.5" y1="463" x2="291.5" y2="717" stroke="rgba(143,143,143,0.38)" stroke-width="1" stroke-dasharray="1 1"/>
<line x1="291.5" y1="461" x2="291.5" y2="463" stroke="rgba(143,143,143,0.38)" stroke-width="1"/>
<line x1="291.5" y1="718" x2="291.5" y2="720" stroke="rgba(143,143,143,0.38)" stroke-width="1"/>
<line x1="315.5" y1="463" x2="315.5" y2="717" stroke="rgba(143,143,143,0.38)" stroke-width="1" stroke-dasharray="1 1"/>
<line x1="315.5" y1="461" x2="315.5" y2="463" stroke="rgba(143,143,143,0.38)" stroke-width="1"/>
<line x1="315.5" y1="718" x2="315.5" y2="720" stroke="rgba(143,143,143,0.38)" stroke-width="1"/>
<line x1="340.5" y1="463" x2="340.5" y2="717" stroke="rgba(143,143,143,0.38)" stroke-width="1" stroke-dasharray="1 1"/>
<line x1="340.5" y1="461" x2="340.5" y2="463" stroke="rgba(143,143,143,0.38)" stroke-width="1"/>
<line x1="340.5" y1="718" x2="340.5" y2="720" stroke="rgba(143,143,143,0.38)" stroke-width="1"/>
<line x1="364.5" y1="463" x2="364.5" y2="717" stroke="rgba(143,143,143,0.38)" stroke-width="1" stroke-dasharray="1 1"/>
<line x1="364.5" y1="461" x2="364.5" y2="463" stroke="rgba(143,143,143,0.38)" stroke-width="1"/>
<line x1="364.5" y1="718" x2="364.5" y2="720" stroke="rgba(143,143,143,0.38)" stroke-width="1"/>
<line x1="389.5" y1="463" x2="389.5" y2="717" stroke="rgba(143,143,143,0.38)" stroke-width="1" stroke-dasharray="1 1"/>
<line x1="389.5" y1="461" x2="389.5" y2="463" stroke="rgba(143,143,143,0.38)" stroke-width="1"/>
<line x1="389.5" y1="718" x2="389.5" y2="720" stroke="rgba(143,143,143,0.38)" stroke-width="1"/>
<line x1="413.5" y1="463" x2="413.5" y2="717" stroke="rgba(222,79,79,0.42)" stroke-width="1" stroke-dasharray="1 1"/>
<line x1="413.5" y1="461" x2="413.5" y2="463" stroke="rgba(222,79,79,0.42)" stroke-width="1"/>
<line x1="413.5" y1="718" x2="413.5" y2="720" stroke="rgba(222,79,79,0.42)" stroke-width="1"/>
<line x1="438.5" y1="463" x2="438.5" y2="717" stroke="rgba(143,143,143,0.38)" stroke-width="1" stroke-dasharray="1 1"/>
<line x1="438.5" y1="461" x2="438.5" y2="463" stroke="rgba(143,143,143,0.38)" stroke-width="1"/>
<line x1="438.5" y1="718" x2="438.5" y2="720" stroke="rgba(143,143,143,0.38)" stroke-width="1"/>
<line x1="462.5" y1="463" x2="462.5" y2="717" stroke="rgba(143,143,143,0.38)" stroke-width="1" stroke-dasharray="1 1"/>
<line x1="462.5" y1="461" x2="462.5" y2="463" stroke="rgba(143,143,143,0.38)" stroke-width="1"/>
<line x1="462.5" y1="718" x2="462.5" y2="720" stroke="rgba(143,143,143,0.38)" stroke-width="1"/>
<line x1="487.5" y1="463" x2="487.5" y2="717" stroke="rgba(143,143,143,0.38)" stroke-width="1" stroke-dasharray="1 1"/>
<line x1="487.5" y1="461" x2="487.5" y2="463" stroke="rgba(143,143,143,0.38)" stroke-width="1"/>
<line x1="487.5" y1="718" x2="487.5" y2="720" stroke="rgba(143,143,143,0.38)" stroke-width="1"/>
<line x1="511.5" y1="463" x2="511.5" y2="717" stroke="rgba(143,143,143,0.38)" stroke-width="1" stroke-dasharray="1 1"/>
<line x1="511.5" y1="461" x2="511.5" y2="463" stroke="rgba(143,143,143,0.38)" stroke-width="1"/>
<line x1="511.5" y1="718" x2="511.5" y2="720" stroke="rgba(143,143,143,0.38)" stroke-width="1"/>
<line x1="536.5" y1="463" x2="536.5" y2="717" stroke="rgba(143,143,143,0.38)" stroke-width="1" stroke-dasharray="1 1"/>
<line x1="536.5" y1="461" x2="536.5" y2="463" stroke="rgba(143,143,143,0.38)" stroke-width="1"/>
<line x1="536.5" y1="718" x2="536.5" y2="720" stroke="rgba(143,143,143,0.38)" stroke-width="1"/>
<line x1="560.5" y1="463" x2="560.5" y2="717" stroke="rgba(143,143,143,0.38)" stroke-width="1" stroke-dasharray="1 1"/>
<line x1="560.5" y1="461" x2="560.5" y2="463" stroke="rgba(143,143,143,0.38)" stroke-width="1"/>
<line x1="560.5" y1="718" x2="560.5" y2="720" stroke="rgba(143,143,143,0.38)" stroke-width="1"/>
<line x1="585.5" y1="463" x2="585.5" y2="717" stroke="rgba(222,79,79,0.42)" stroke-width="1" stroke-dasharray="1 1"/>
<line x1="585.5" y1="461" x2="585.5" y2="463" stroke="rgba(222,79,79,0.42)" stroke-width="1"/>
<line x1="585.5" y1="718" x2="585.5" y2="720" stroke="rgba(222,79,79,0.42)" stroke-width="1"/>
<line x1="609.5" y1="463" x2="609.5" y2="717" stroke="rgba(143,143,143,0.38)" stroke-width="1" stroke-dasharray="1 1"/>
<line x1="609.5" y1="461" x2="609.5" y2="463" stroke="rgba(143,143,143,0.38)" stroke-width="1"/>
<line x1="609.5" y1="718" x2="609.5" y2="720" stroke="rgba(143,143,143,0.38)" stroke-width="1"/>
<line x1="634.5" y1="463" x2="634.5" y2="717" stroke="rgba(143,143,143,0.38)" stroke-width="1" stroke-dasharray="1 1"/>
<line x1="634.5" y1="461" x2="634.5" y2="463" stroke="rgba(143,143,143,0.38)" stroke-width="1"/>
<line x1="634.5" y1="718" x2="634.5" y2="720" stroke="rgba(143,143,143,0.38)" stroke-width="1"/>
<line x1="658.5" y1="463" x2="658.5" y2="717" stroke="rgba(143,143,143,0.38)" stroke-width="1" stroke-dasharray="1 1"/>
<line x1="658.5" y1="461" x2="658.5" y2="463" stroke="rgba(143,143,143,0.38)" stroke-width="1"/>
<line x1="658.5" y1="718" x2="658.5" y2="720" stroke="rgba(143,143,143,0.38)" stroke-width="1"/>
<line x1="682.5" y1="463" x2="682.5" y2="717" stroke="rgba(143,143,143,0.38)" stroke-width="1" stroke-dasharray="1 1"/>
<line x1="682.5" y1="461" x2="682.5" y2="463" stroke="rgba(143,143,143,0.38)" stroke-width="1"/>
<line x1="682.5" y1="718" x2="682.5" y2="720" stroke="rgba(143,143,143,0.38)" stroke-width="1"/>
<line x1="707.5" y1="463" x2="707.5" y2="717" stroke="rgba(143,143,143,0.38)" stroke-width="1" stroke-dasharray="1 1"/>
<line x1="707.5" y1="461" x2="707.5" y2="463" stroke="rgba(143,143,143,0.38)" stroke-width="1"/>
<line x1="707.5" y1="718" x2="707.5" y2="720" stroke="rgba(143,143,143,0.38)" stroke-width="1"/>
<line x1="731.5" y1="463" x2="731.5" y2="717" stroke="rgba(143,143,143,0.38)" stroke-width="1" stroke-dasharray="1 1"/>
<line x1="731.5" y1="461" x2="731.5" y2="463" stroke="rgba(143,143,143,0.38)" stroke-width="1"/>
<line x1="731.5" y1="718" x2="731.5" y2="720" stroke="rgba(143,143,143,0.38)" stroke-width="1"/>
<line x1="756.5" y1="463" x2="756.5" y2="717" stroke="rgba(222,79,79,0.42)" stroke-width="1" stroke-dasharray="1 1"/>
<line x1="756.5" y1="461" x2="756.5" y2="463" stroke="rgba(222,79,79,0.42)" stroke-width="1"/>
<line x1="756.5" y1="718" x2="756.5" y2="720" stroke="rgba(222,79,79,0.42)" stroke-width="1"/>
<line x1="780.5" y1="463" x2="780.5" y2="717" stroke="rgba(143,143,143,0.38)" stroke-width="1" stroke-dasharray="1 1"/>
<line x1="780.5" y1="461" x2="780.5" y2="463" stroke="rgba(143,143,143,0.38)" stroke-width="1"/>
<line x1="780.5" y1="718" x2="780.5" y2="720" stroke="rgba(143,143,143,0.38)" stroke-width="1"/>
<line x1="805.5" y1="463" x2="805.5" y2="717" stroke="rgba(143,143,143,0.38)" stroke-width="1" stroke-dasharray="1 1"/>
<line x1="805.5" y1="461" x2="805.5" y2="463" stroke="rgba(143,143,143,0.38)" stroke-width="1"/>
<line x1="805.5" y1="718" x2="805.5" y2="720" stroke="rgba(143,143,143,0.38)" stroke-width="1"/>
<line x1="829.5" y1="463" x2="829.5" y2="717" stroke="rgba(143,143,143,0.38)" stroke-width="1" stroke-dasharray="1 1"/>
<line x1="829.5" y1="461" x2="829.5" y2="463" stroke="rgba(143,143,143,0.38)" stroke-width="1"/>
<line x1="829.5" y1="718" x2="829.5" y2="720" stroke="rgba(143,143,143,0.38)" stroke-width="1"/>
<line x1="854.5" y1="463" x2="854.5" y2="717" stroke="rgba(143,143,143,0.38)" stroke-width="1" stroke-dasharray="1 1"/>
<line x1="854.5" y1="461" x2="854.5" y2="463" stroke="rgba(143,143,143,0.38)" stroke-width="1"/>
<line x1="854.5" y1="718" x2="854.5" y2="720" stroke="rgba(143,143,143,0.38)" stroke-width="1"/>
<path d="M133.5 707.7L139.5 708L141.9 705.3L145.5 710L148.2 706.9L153.8 706L155.7 708L162.5 708L166.5 706L168 706.9L170.9 711.9L173.6 710L175.2 710.8L179.1 710.8L180.7 706.9L183.1 706.5L186.3 704.5L189.4 704.8L191.8 706.9L193.4 708.4L195 708L196.6 710.8L199.7 709.2L202.9 710L206 709.2L209.2 707.7L213.2 706L216.4 707.7L218.7 711.1L223.5 710L224.9 710L225.4 691L226.5 691L227 710L229 709.2L232.2 705.3L234.6 708.4L237.8 706L240.1 705.3L243.3 709.2L245.7 710L248 709.2L252.8 707.2L255.9 706.9L258.3 706L260 706.9L262 704.5L263.8 706L267.8 710.3L271 710.3L273.4 708.4L277.3 710.5L280.5 708.4L284.5 705.3L287 705.3L288.9 703.4L290.5 708.4L294.8 710.8L297.1 709.2L304.3 709.2L307 706L309 708L313 706L315.4 709.2L318.5 710.8L321.2 712.4L323.8 710.5L326 712.4L329.6 707.2L333.6 705.3L336 707.7L338.5 706.9L343.1 710L347 709.2L350.2 711.3L354.2 707.2L356.6 705.6L358.1 706.9L360.2 704.5L363.7 706L366.1 709.2L368 710L370 710L372 708.4L373.9 710.8L377.1 709.7L379.5 710.3L381.8 708.4L385 708L387.4 707.2L389.5 710L391 713.2L392.9 711.3L398.5 711.6L401.7 708.4L404.8 707.2L406.9 710L411.2 707.7L414.3 710.3L417.5 710.3M420.7 709.6L425.4 709.2L429.4 706L432.6 707.7L435.7 706.9L438.9 709.2L442.1 711.3L445.2 710.8L448.4 710L451.6 708.4L454 706.9L456.3 707.7L458.7 706L460.5 706L463 710L465.8 710L467.4 709.2L469.8 710L472.2 708.4L475.3 708.4L477.7 709.2L480.1 706.9L483.3 706.5L484.9 704.5L485.6 709.2L488 710L490.3 711.3L494.8 708.4L498.3 710L502.2 708.4L508.6 707.7L510.6 710.8L513.3 710.3L516.5 711.9L518.9 710.3L520.8 710.8L522.8 708.4L526 709.2L529.2 707.2L531.5 709.2L534.7 708.4L536.6 706L537.6 643.5L538.7 643.5L539.5 709.2L541.8 710.3L544.2 709.2L546.6 710L548.2 705.3L549.3 691.3L550.6 691.3L551.8 704.5L554.5 707.7L558.5 707.2L561.7 710L565.6 710.8L569.6 706.9L573.5 705.3L575.9 708.4L579.1 709.2L581.9 707.2L583.8 710L586.7 711.9L591 711.9L593.4 710L596.5 709.2L598.9 706L601.3 706.5L602.9 709.2L606.8 706L610.7 710.8L612.8 709.2L614.7 711.3L617.8 708.4L622.6 704.5L625.5 704.5L628.1 706.9L630.8 702.1L632.9 706.9L636.1 709.7L640 710.3L643.2 711.3L645.6 710L648.8 706L651.9 703.4L654.3 706.9L657.5 706L659.8 709.2L663 711.3L666.2 710.8L667.8 707.7L669.8 709.2L671.7 706.5L674.1 704.5L676.5 707.2L679.7 705.3L682 706.9L683.6 710L688.4 708.4L692.3 709.2L694.7 706.5L697.1 708.4L701 710L705 706L709 710.3L712.9 710.3L716.1 710.8L719.3 709.7L722 708.8L727.1 707.2L728.7 708L731.1 706L732.7 710L736.6 711.3L742.2 709.7L747.7 707.2L750.1 709.2L755.7 707.2L758.8 709.2L762 711.3L764.4 709.2L768.3 709.2L771.5 706L774.2 702.1L776.3 703.7L779.4 707.7L781.8 711.9L785 710.3L788.1 708.4L790.5 710.3L793.7 706L797.7 706L799.2 708.4L803.2 704.5L806.4 709.7L809.5 709.2L815.1 711.3L819 707.2L823 708L827 707.7L829.4 710.8L832.5 710L834.1 709.7L837 706L840 708.4L842.8 709.2L845.2 705.3L847.2 701.3L849.1 702.9L852 705L854.7 710.3L857.8 709.2L861 711.3L864.2 710L865.5 710" fill="none" stroke="#0433d4" stroke-width="1.1" stroke-linejoin="round" shape-rendering="auto"/>
<line x1="133.5" y1="456.5" x2="133.5" y2="721" stroke="rgba(31,31,31,0.62)" stroke-width="1"/>
<line x1="130" y1="717.5" x2="868" y2="717.5" stroke="rgba(31,31,31,0.62)" stroke-width="1"/>
<path d="M131 461.1L133.9 456.1L136.9 461.1z" fill="#801f1f" shape-rendering="auto"/>
<path d="M868 714.3L873 717.5L868 720.7z" fill="#801f1f" shape-rendering="auto"/>
<text x="115.8" y="721" font-size="9.3" letter-spacing="0.4" text-anchor="end" fill="#000" xml:space="preserve">0.0</text>
<text x="127.8" y="700" font-size="9.3" letter-spacing="0.4" text-anchor="end" fill="#000" xml:space="preserve">0.1 M</text>
<text x="127.8" y="679" font-size="9.3" letter-spacing="0.4" text-anchor="end" fill="#000" xml:space="preserve">0.2 M</text>
<text x="127.8" y="657" font-size="9.3" letter-spacing="0.4" text-anchor="end" fill="#000" xml:space="preserve">0.3 M</text>
<text x="127.8" y="636" font-size="9.3" letter-spacing="0.4" text-anchor="end" fill="#000" xml:space="preserve">0.4 M</text>
<text x="127.8" y="615" font-size="9.3" letter-spacing="0.4" text-anchor="end" fill="#000" xml:space="preserve">0.5 M</text>
<text x="127.8" y="594" font-size="9.3" letter-spacing="0.4" text-anchor="end" fill="#000" xml:space="preserve">0.6 M</text>
<text x="127.8" y="573" font-size="9.3" letter-spacing="0.4" text-anchor="end" fill="#000" xml:space="preserve">0.7 M</text>
<text x="127.8" y="552" font-size="9.3" letter-spacing="0.4" text-anchor="end" fill="#000" xml:space="preserve">0.8 M</text>
<text x="127.8" y="530" font-size="9.3" letter-spacing="0.4" text-anchor="end" fill="#000" xml:space="preserve">0.9 M</text>
<text x="127.8" y="509" font-size="9.3" letter-spacing="0.4" text-anchor="end" fill="#000" xml:space="preserve">1.0 M</text>
<text x="127.8" y="488" font-size="9.3" letter-spacing="0.4" text-anchor="end" fill="#000" xml:space="preserve">1.1 M</text>
<text x="127.8" y="467" font-size="9.3" letter-spacing="0.4" text-anchor="end" fill="#000" xml:space="preserve">1.2 M</text>
<text x="243.2" y="730" font-size="9.3" letter-spacing="0.45" text-anchor="middle" fill="#000">Week 13</text>
<text x="414.2" y="730" font-size="9.3" letter-spacing="0.45" text-anchor="middle" fill="#000">Week 14</text>
<text x="586.2" y="730" font-size="9.3" letter-spacing="0.45" text-anchor="middle" fill="#000">Week 15</text>
<text x="757.2" y="730" font-size="9.3" letter-spacing="0.45" text-anchor="middle" fill="#000">Week 16</text>
<text transform="translate(81.3 590.2) rotate(-90)" font-size="11" letter-spacing="0.33" text-anchor="middle">bits/sec</text>
<rect x="82.5" y="738.5" width="8" height="9" fill="#ffff99" stroke="#000" stroke-width="1"/>
<text x="97" y="747" font-size="11" letter-spacing="0.377" fill="#000">Priv Out</text>
<text x="183.4" y="747" font-size="11" letter-spacing="0.377" fill="#000">Max:</text>
<text x="267.9" y="747" font-size="11" letter-spacing="0.377" text-anchor="end" fill="#000">25.20</text>
<text x="302.1" y="747" font-size="11" letter-spacing="0.377" text-anchor="end" fill="#000">b/s</text>
<text x="318.9" y="747" font-size="11" letter-spacing="0.377" fill="#000">Avg:</text>
<text x="402.9" y="747" font-size="11" letter-spacing="0.377" text-anchor="end" fill="#000">875.68</text>
<text x="437.1" y="747" font-size="11" letter-spacing="0.377" text-anchor="end" fill="#000">mb/s</text>
<text x="453.4" y="747" font-size="11" letter-spacing="0.377" fill="#000">Last:</text>
<text x="544.9" y="747" font-size="11" letter-spacing="0.377" text-anchor="end" fill="#000">0.00</text>
<text x="579.1" y="747" font-size="11" letter-spacing="0.377" text-anchor="end" fill="#000">b/s</text>
<rect x="82.5" y="752.5" width="8" height="9" fill="#cc0099" stroke="#000" stroke-width="1"/>
<text x="97" y="761" font-size="11" letter-spacing="0.377" fill="#000">Priv In</text>
<text x="183.4" y="761" font-size="11" letter-spacing="0.377" fill="#000">Max:</text>
<text x="267.9" y="761" font-size="11" letter-spacing="0.377" text-anchor="end" fill="#000">32.67</text>
<text x="302.1" y="761" font-size="11" letter-spacing="0.377" text-anchor="end" fill="#000">b/s</text>
<text x="318.9" y="761" font-size="11" letter-spacing="0.377" fill="#000">Avg:</text>
<text x="402.9" y="761" font-size="11" letter-spacing="0.377" text-anchor="end" fill="#000">1.28</text>
<text x="437.1" y="761" font-size="11" letter-spacing="0.377" text-anchor="end" fill="#000">b/s</text>
<text x="453.4" y="761" font-size="11" letter-spacing="0.377" fill="#000">Last:</text>
<text x="544.9" y="761" font-size="11" letter-spacing="0.377" text-anchor="end" fill="#000">0.00</text>
<text x="579.1" y="761" font-size="11" letter-spacing="0.377" text-anchor="end" fill="#000">b/s</text>
<rect x="82.5" y="766.5" width="8" height="9" fill="#33cc33" stroke="#000" stroke-width="1"/>
<text x="97" y="775" font-size="11" letter-spacing="0.377" fill="#000">Outgoing</text>
<text x="183.4" y="775" font-size="11" letter-spacing="0.377" fill="#000">Max:</text>
<text x="267.9" y="775" font-size="11" letter-spacing="0.377" text-anchor="end" fill="#000">1.16</text>
<text x="302.1" y="775" font-size="11" letter-spacing="0.377" text-anchor="end" fill="#000">Mb/s</text>
<text x="318.9" y="775" font-size="11" letter-spacing="0.377" fill="#000">Avg:</text>
<text x="402.9" y="775" font-size="11" letter-spacing="0.377" text-anchor="end" fill="#000">603.61</text>
<text x="437.1" y="775" font-size="11" letter-spacing="0.377" text-anchor="end" fill="#000">kb/s</text>
<text x="453.4" y="775" font-size="11" letter-spacing="0.377" fill="#000">Last:</text>
<text x="544.9" y="775" font-size="11" letter-spacing="0.377" text-anchor="end" fill="#000">434.85</text>
<text x="579.1" y="775" font-size="11" letter-spacing="0.377" text-anchor="end" fill="#000">kb/s</text>
<rect x="82.5" y="780.5" width="8" height="9" fill="#0022cc" stroke="#000" stroke-width="1"/>
<text x="97" y="789" font-size="11" letter-spacing="0.377" fill="#000">Incoming</text>
<text x="183.4" y="789" font-size="11" letter-spacing="0.377" fill="#000">Max:</text>
<text x="267.9" y="789" font-size="11" letter-spacing="0.377" text-anchor="end" fill="#000">350.56</text>
<text x="302.1" y="789" font-size="11" letter-spacing="0.377" text-anchor="end" fill="#000">kb/s</text>
<text x="318.9" y="789" font-size="11" letter-spacing="0.377" fill="#000">Avg:</text>
<text x="402.9" y="789" font-size="11" letter-spacing="0.377" text-anchor="end" fill="#000">42.55</text>
<text x="437.1" y="789" font-size="11" letter-spacing="0.377" text-anchor="end" fill="#000">kb/s</text>
<text x="453.4" y="789" font-size="11" letter-spacing="0.377" fill="#000">Last:</text>
<text x="544.9" y="789" font-size="11" letter-spacing="0.377" text-anchor="end" fill="#000">31.77</text>
<text x="579.1" y="789" font-size="11" letter-spacing="0.377" text-anchor="end" fill="#000">kb/s</text>
<text x="712.2" y="803" font-size="11" letter-spacing="0.377" fill="#000" xml:space="preserve">Thu May  1 12:38:13 2014</text>
</svg>
</body></html>
